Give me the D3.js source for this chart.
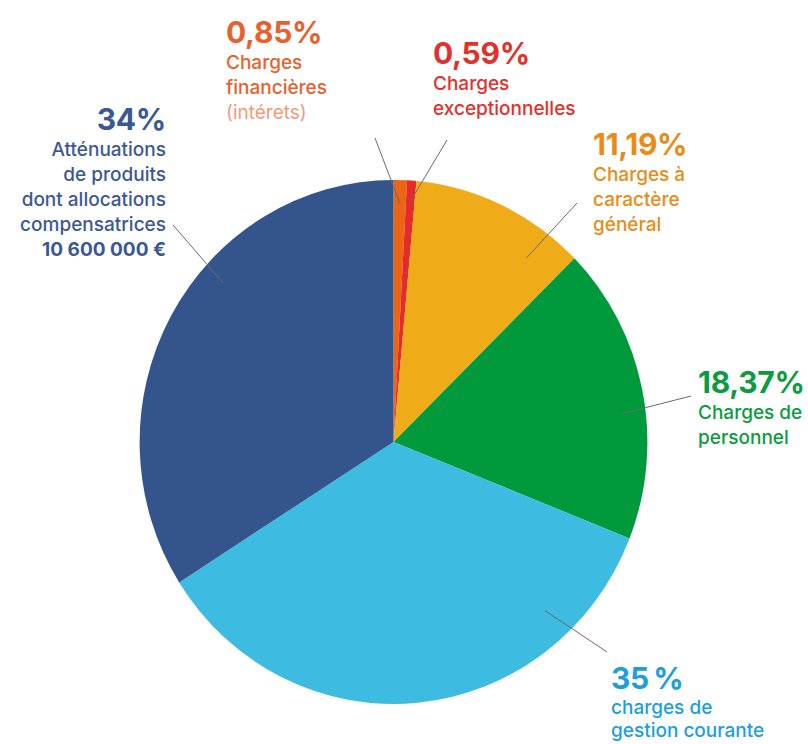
<!DOCTYPE html>
<html><head><meta charset="utf-8">
<script src="https://cdn.jsdelivr.net/npm/d3@7/dist/d3.min.js"></script>
<style>
html,body{margin:0;padding:0;background:#fff;}
svg{display:block;font-family:Inter,"Noto Sans",sans-serif;}
</style></head><body>
<svg id="chart" width="808" height="744"></svg>
<script>
// ---- data ----
const categories = ["Charges financières", "Charges exceptionnelles", "Charges à caractère général", "Charges de personnel", "charges de gestion courante", "Atténuations de produits"];
const values = [0.85, 0.59, 11.19, 18.37, 35, 34];
const percentLabels = ["0,85%", "0,59%", "11,19%", "18,37%", "35\u2009%", "34%"];
const descriptions = [
  ["Charges", "financières", "(intérets)"],
  ["Charges", "exceptionnelles"],
  ["Charges à", "caractère", "général"],
  ["Charges de", "personnel"],
  ["charges de", "gestion courante"],
  ["Atténuations", "de produits", "dont allocations", "compensatrices", "10 600 000 €"]
];
const sliceColors = ["#ec6515", "#e52a2a", "#f0ab18", "#009a3d", "#3dbbe0", "#34558b"];
const textColors = ["#e8612c", "#e2302b", "#e98b16", "#0b9b40", "#1ba0dc", "#3b5896"];

// ---- layout ----
const cx = 393.5, cy = 442, R = 262, sx = 0.969;
const labelLayout = [
  {x: 226, y: 43, anchor: "start", innerPct: 0.46, innerR: 238, outer: [375, 138], lh: 25},
  {x: 433, y: 64, anchor: "start", innerPct: 1.14, innerR: 241, outer: [447, 140], lh: 25},
  {x: 593, y: 155, anchor: "start", innerPct: 10.2, innerR: 230, outer: [577, 203], lh: 25},
  {x: 698, y: 393, anchor: "start", innerPct: 23.1, innerR: 237, outer: [691, 396], lh: 25},
  {x: 611, y: 689, anchor: "start", innerPct: 38.1, innerR: 230, outer: [607, 652], lh: 23.5},
  {x: 166, y: 130, anchor: "end", innerPct: 86.7, innerR: 237, outer: [173, 225], lh: 25}
];

const svg = d3.select("#chart");
const total = d3.sum(values);
const pie = d3.pie().sort(null).value(d => d)(values);
const arc = d3.arc().innerRadius(0).outerRadius(R);

const g = svg.append("g").attr("transform", `translate(${cx},${cy}) scale(${sx},1)`);
g.selectAll("path").data(pie).join("path")
  .attr("d", arc)
  .attr("fill", (d, i) => sliceColors[i]);

const angle = d3.scaleLinear().domain([0, total]).range([0, 2 * Math.PI]);

// leader lines
labelLayout.forEach((L, i) => {
  const a = angle(L.innerPct);
  const ix = cx + sx * L.innerR * Math.sin(a);
  const iy = cy - L.innerR * Math.cos(a);
  svg.append("line")
    .attr("x1", L.outer[0]).attr("y1", L.outer[1])
    .attr("x2", ix).attr("y2", iy)
    .attr("stroke", "#6b6b6b").attr("stroke-width", 1);
});

// labels
labelLayout.forEach((L, i) => {
  const t = svg.append("text")
    .attr("text-anchor", L.anchor)
    .attr("fill", textColors[i]);
  t.append("tspan").attr("x", L.x).attr("y", L.y)
    .attr("font-size", 30).attr("font-weight", 700)
    .attr("letter-spacing", -0.3)
    .text(percentLabels[i]);
  descriptions[i].forEach((line, k) => {
    const ts = t.append("tspan").attr("x", L.x).attr("y", L.y + L.lh * (k + 1) + 1)
      .attr("font-size", 19).attr("font-weight", 500)
      .text(line);
    if (i === 0 && k === 2) ts.attr("fill", "#f29b7a").attr("font-weight", 400);
    if (i === 5 && k === 4) ts.attr("font-weight", 700);
  });
});
</script>
</body></html>
